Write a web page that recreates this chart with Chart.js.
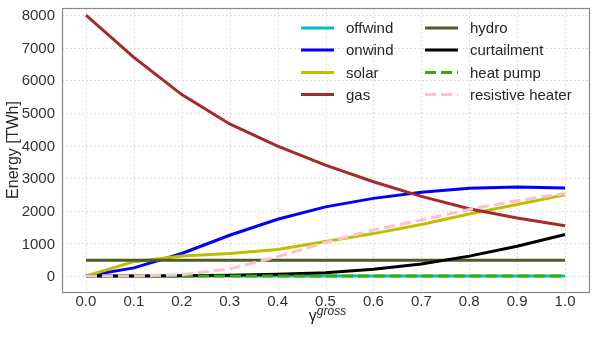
<!DOCTYPE html>
<html><head><meta charset="utf-8">
<script src="https://cdn.jsdelivr.net/npm/chart.js@4/dist/chart.umd.min.js"></script>
<style>html,body{margin:0;padding:0;background:#fff}#wrap{width:598px;height:337px}</style>
</head><body><div id="wrap"><canvas id="c" width="598" height="337"></canvas></div>
<script>
const gamma = [0.0, 0.1, 0.2, 0.3, 0.4, 0.5, 0.6, 0.7, 0.8, 0.9, 1.0];
const offwind = [0, 0, 0, 0, 0, 0, 0, 0, 0, 0, 0];
const onwind = [0, 250, 690, 1250, 1740, 2120, 2380, 2570, 2690, 2730, 2700];
const solar = [0, 440, 610, 690, 810, 1060, 1300, 1580, 1900, 2190, 2490];
const gas = [8000, 6700, 5560, 4660, 3980, 3400, 2890, 2440, 2060, 1780, 1540];
const hydro = [480, 480, 480, 480, 480, 480, 480, 480, 480, 480, 480];
const curtailment = [0, 0, 5, 20, 55, 100, 210, 370, 610, 910, 1270];
const heatPump = [0, 0, 0, 0, 0, 0, 0, 0, 0, 0, 0];
const resistiveHeater = [0, 0, 40, 220, 590, 1030, 1410, 1720, 2040, 2310, 2530];
const seriesNames = ['offwind','onwind','solar','gas','hydro','curtailment','heat pump','resistive heater'];
const seriesColors = ['#00bfbf','#0000ff','#bfbf00','#a52a2a','#4b5e23','#000000','#3aaa00','#ffc0cb'];
const seriesDashed = [false,false,false,false,false,false,true,true];
const xTickValues = [0.0,0.1,0.2,0.3,0.4,0.5,0.6,0.7,0.8,0.9,1.0];
const yTickValues = [0,1000,2000,3000,4000,5000,6000,7000,8000];

const allSeries = [offwind, onwind, solar, gas, hydro, curtailment, heatPump, resistiveHeater];
const datasets = allSeries.map((vals, i) => ({
  label: seriesNames[i],
  data: gamma.map((g, j) => ({x: g, y: vals[j]})),
  borderColor: seriesColors[i],
  backgroundColor: seriesColors[i],
  borderWidth: 3,
  borderDash: seriesDashed[i] ? [11, 5] : [],
  pointRadius: 0,
  tension: 0,
  fill: false,
  order: allSeries.length - i
}));

const FONT = "'Liberation Sans', Arial, sans-serif";

const decor = {
  id: 'decor',
  beforeDatasetsDraw(chart) {
    const {ctx, chartArea: a, scales: {x, y}} = chart;
    ctx.save();
    ctx.strokeStyle = '#dcdcdc';
    ctx.lineWidth = 1;
    ctx.setLineDash([2, 2]);
    xTickValues.forEach(v => {
      const px = Math.round(x.getPixelForValue(v)) + 0.5;
      ctx.beginPath(); ctx.moveTo(px, a.top); ctx.lineTo(px, a.bottom); ctx.stroke();
    });
    yTickValues.forEach(v => {
      const py = Math.round(y.getPixelForValue(v)) + 0.5;
      ctx.beginPath(); ctx.moveTo(a.left, py); ctx.lineTo(a.right, py); ctx.stroke();
    });
    ctx.restore();
  },
  afterDraw(chart) {
    const {ctx, chartArea: a, scales: {x, y}} = chart;
    ctx.save();
    ctx.strokeStyle = '#888888';
    ctx.lineWidth = 1.2;
    ctx.setLineDash([]);
    ctx.strokeRect(Math.round(a.left) + 0.5, Math.round(a.top) + 0.5, Math.round(a.right - a.left), Math.round(a.bottom - a.top));
    // tick labels
    ctx.fillStyle = '#333333';
    ctx.font = '15px ' + FONT;
    ctx.textAlign = 'right';
    ctx.textBaseline = 'middle';
    yTickValues.forEach(v => ctx.fillText(String(v), a.left - 7, y.getPixelForValue(v) + 1));
    ctx.textAlign = 'center';
    xTickValues.forEach(v => ctx.fillText(v.toFixed(1), x.getPixelForValue(v), 302));
    // legend
    ctx.font = '15px ' + FONT;
    ctx.textAlign = 'left';
    ctx.textBaseline = 'middle';
    ctx.fillStyle = '#262626';
    const rows = [28, 50, 72.5, 94.5];
    const cols = [{l: 301, t: 346}, {l: 425, t: 470}];
    seriesNames.forEach((name, i) => {
      const c = cols[Math.floor(i / 4)];
      const ry = rows[i % 4];
      ctx.strokeStyle = seriesColors[i];
      ctx.lineWidth = 3;
      ctx.setLineDash(seriesDashed[i] ? [11, 5] : []);
      ctx.beginPath(); ctx.moveTo(c.l, ry); ctx.lineTo(c.l + 33, ry); ctx.stroke();
      ctx.fillText(name, c.t, ry + 1);
    });
    ctx.setLineDash([]);
    // y title
    ctx.save();
    ctx.translate(14, 150);
    ctx.rotate(-Math.PI / 2);
    ctx.textAlign = 'center';
    ctx.textBaseline = 'middle';
    ctx.font = '16px ' + FONT;
    ctx.fillText('Energy [TWh]', 0, 0);
    ctx.restore();
    // x title
    ctx.textBaseline = 'alphabetic';
    ctx.textAlign = 'left';
    ctx.font = '16px ' + FONT;
    const gw = ctx.measureText('γ').width;
    ctx.font = 'italic 12px ' + FONT;
    const sw = ctx.measureText('gross').width;
    const cx = (a.left + a.right) / 2 + 2;
    const x0 = cx - (gw + sw) / 2;
    ctx.font = '16px ' + FONT;
    ctx.fillText('γ', x0, 321);
    ctx.font = 'italic 12px ' + FONT;
    ctx.fillText('gross', x0 + gw, 315);
    ctx.restore();
  }
};

new Chart(document.getElementById('c'), {
  type: 'line',
  data: {datasets},
  plugins: [decor],
  options: {
    responsive: false,
    devicePixelRatio: 1,
    animation: false,
    layout: {padding: {left: 0, top: 8, right: 9, bottom: 0}},
    plugins: {legend: {display: false}, tooltip: {enabled: false}},
    scales: {
      x: {
        type: 'linear', min: -0.05, max: 1.05,
        grid: {display: false}, border: {display: false},
        afterBuildTicks: s => { s.ticks = xTickValues.map(v => ({value: v})); },
        afterFit: s => { s.height = 45; s.paddingLeft = 0; s.paddingRight = 0; },
        ticks: {display: false}
      },
      y: {
        type: 'linear', min: -490, max: 8215,
        grid: {display: false}, border: {display: false},
        afterBuildTicks: s => { s.ticks = yTickValues.map(v => ({value: v})); },
        afterFit: s => { s.width = 62; s.paddingTop = 0; s.paddingBottom = 0; },
        ticks: {display: false}
      }
    }
  }
});
</script></body></html>
